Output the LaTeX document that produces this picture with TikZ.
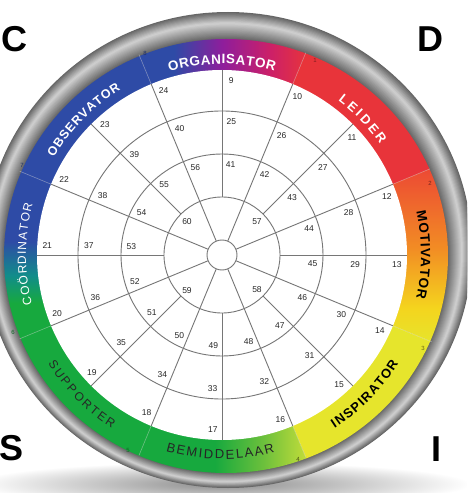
\documentclass[tikz,border=0pt]{standalone}
\usepackage{fontspec}
\setmainfont{Liberation Sans}
\usetikzlibrary{decorations.text}

\definecolor{obblue}{HTML}{2E4BA6}
\definecolor{orpurple}{HTML}{8E1E9C}
\definecolor{ormag}{HTML}{CC2068}
\definecolor{ldred}{HTML}{E8343A}
\definecolor{mvred}{HTML}{EC4834}
\definecolor{mvorange}{HTML}{F28C24}
\definecolor{mvyel}{HTML}{F4D41E}
\definecolor{inyel}{HTML}{E6E52C}
\definecolor{sugreen}{HTML}{17A93E}
\definecolor{bmmid}{HTML}{6CC03C}
\definecolor{bmlime}{HTML}{C4DD3A}
\definecolor{coteal}{HTML}{118D8A}
\definecolor{gridgray}{HTML}{767676}

\pgfdeclarehorizontalshading{orgshade}{100bp}{color(0bp)=(obblue); color(25bp)=(obblue); color(36bp)=(obblue); color(50bp)=(orpurple); color(64bp)=(ormag); color(75bp)=(ldred); color(100bp)=(ldred)}
\pgfdeclareverticalshading{motshade}{100bp}{color(0bp)=(inyel); color(25bp)=(inyel); color(35bp)=(mvyel); color(52bp)=(mvorange); color(75bp)=(mvred); color(100bp)=(mvred)}
\pgfdeclarehorizontalshading{bemshade}{100bp}{color(0bp)=(sugreen); color(25bp)=(sugreen); color(48bp)=(sugreen); color(62bp)=(bmmid); color(75bp)=(bmlime); color(100bp)=(bmlime)}
\pgfdeclareverticalshading{cooshade}{100bp}{color(0bp)=(sugreen); color(25bp)=(sugreen); color(36bp)=(sugreen); color(44bp)=(coteal); color(54bp)=(obblue); color(75bp)=(obblue); color(100bp)=(obblue)}

\newcommand\bandseg[5]{%
  \begin{scope}
    \clip (0,0) -- (#1:330) arc[start angle=#1, end angle=#2, radius=330] -- cycle;
    \clip (4,-1) ellipse [x radius=222, y radius=217];
    \path[#3] (#4) rectangle (#5);
  \end{scope}}

\newcommand\wheellabel[6]{%
  \path[decorate, decoration={text along path, text={|#5|#6}, text align={fit to path}, text color=#4}]
    (#1:#3) arc[start angle=#1, end angle=#2, radius=#3];}

\tikzset{
  grid/.style={draw=gridgray, line width=0.9pt},
  num/.style={font=\fontsize{8.5}{9}\selectfont, text=black!85, inner sep=0pt},
  bandnum/.style={font=\fontsize{6}{6}\selectfont, inner sep=0pt},
  corner/.style={font=\fontsize{36}{36}\selectfont\bfseries, text=black, inner sep=0pt},
  seam/.style={draw=white, draw opacity=0.35, line width=0.6pt},
}

\begin{document}
\begin{tikzpicture}[x=1pt,y=1pt]
\useasboundingbox (-222,-238) rectangle (245,255);
\clip (-222,-238) rectangle (245,255);
\fill[white] (-222,-238) rectangle (245,255);

% shadow
\shade[inner color=black!45, outer color=white] (0,-229) ellipse [x radius=248, y radius=22];

% metallic ring
\foreach \i in {0,...,24}{
  \pgfmathsetmacro\t{\i/24}
  \pgfmathsetmacro\g{ifthenelse(\t<0.4, 60-105*\t, 18+72*(\t-0.4))}
  \pgfmathsetmacro\cx{6-2*\t}
  \pgfmathsetmacro\cy{5-6*\t}
  \pgfmathsetmacro\rx{244-22*\t}
  \pgfmathsetmacro\ry{238-21*\t}
  \fill[black!\g] (\cx,\cy) ellipse [x radius=\rx, y radius=\ry];
}

% colour band
\bandseg{67.5}{112.5}{shade, shading=orgshade}{-86,165}{86,219}
\bandseg{22.5}{67.5}{fill=ldred}{-260,-260}{260,260}
\bandseg{-22.5}{22.5}{shade, shading=motshade}{165,-88}{228,88}
\bandseg{-67.5}{-22.5}{fill=inyel}{-260,-260}{260,260}
\bandseg{-112.5}{-67.5}{shade, shading=bemshade}{-86,-219}{86,-165}
\bandseg{-157.5}{-112.5}{fill=sugreen}{-260,-260}{260,260}
\bandseg{157.5}{202.5}{shade, shading=cooshade}{-220,-86}{-165,86}
\bandseg{112.5}{157.5}{fill=obblue}{-260,-260}{260,260}

\foreach \a/\r in {22.5/225, 67.5/219, 112.5/217, 157.5/219, -22.5/227, -67.5/219, -112.5/217, -157.5/219}{
  \draw[seam] (\a:185) -- (\a:\r);
}

% white disc
\fill[white] (0,0) circle[radius=185];

% grid
\foreach \r in {15,58,101,144}{ \draw[grid] (0,0) circle[radius=\r]; }
\foreach \i in {0,...,15}{
  \pgfmathsetmacro\a{90-22.5*\i}
  \pgfmathtruncatemacro\odd{mod(\i,2)}
  \ifnum\odd=1 \draw[grid] (\a:15) -- (\a:185); \else \draw[grid] (\a:58) -- (\a:185); \fi
}

% numbers
\foreach \k in {9,...,24}{
  \pgfmathsetmacro\a{87-22.5*(\k-9)}
  \node[num] (n\k) at (\a:175) {\k};
}
\foreach \k in {25,...,40}{
  \pgfmathsetmacro\a{86-22.5*(\k-25)}
  \node[num] (n\k) at (\a:133.5) {\k};
}
\foreach \k in {41,...,56}{
  \pgfmathsetmacro\a{84.5-22.5*(\k-41)}
  \node[num] (n\k) at (\a:91) {\k};
}
\node[num] (n57) at (35,33) {57};
\node[num] (n58) at (35,-35) {58};
\node[num] (n59) at (-35,-36) {59};
\node[num] (n60) at (-35,33) {60};

% small band numbers
\node[bandnum, text=ldred!55!black] (b1) at (93,195) {1};
\node[bandnum, text=mvred!50!black] (b2) at (208,72) {2};
\node[bandnum, text=inyel!45!black] (b3) at (201,-93) {3};
\node[bandnum, text=bmlime!35!black] (b4) at (76,-204) {4};
\node[bandnum, text=sugreen!60!black] (b5) at (-94,-195) {5};
\node[bandnum, text=sugreen!60!black] (b6) at (-209,-77) {6};
\node[bandnum, text=obblue!60!black] (b7) at (-200,90) {7};
\node[bandnum, text=obblue!60!black] (b8) at (-77,202) {8};

% band labels
\wheellabel{106}{74}{191}{white}{\fontsize{13.5}{13.5}\selectfont\bfseries}{ORGANISATOR}
\wheellabel{53}{35}{193}{white}{\fontsize{13}{13}\selectfont\bfseries}{LEIDER}
\wheellabel{12.5}{-12.5}{199}{black}{\fontsize{13.5}{13.5}\selectfont\bfseries}{MOTIVATOR}
\wheellabel{-57}{-31.5}{207}{black}{\fontsize{13}{13}\selectfont\bfseries}{INSPIRATOR}
\wheellabel{-106}{-75}{204}{black!85}{\fontsize{13}{13}\selectfont}{BEMIDDELAAR}
\wheellabel{-148}{-122.5}{205}{black!85}{\fontsize{12}{12}\selectfont}{SUPPORTER}
\wheellabel{194.5}{165}{196}{white}{\fontsize{12}{12}\selectfont}{COÖRDINATOR}
\wheellabel{150}{121.5}{194}{white}{\fontsize{12.5}{12.5}\selectfont\bfseries}{OBSERVATOR}

% corner letters
\node[corner] (lc) at (-207,216) {C};
\node[corner] (ld) at (208,215.5) {D};
\node[corner] (ls) at (-210,-193) {S};
\node[corner] (li) at (214,-194.5) {I};
\end{tikzpicture}
\end{document}
